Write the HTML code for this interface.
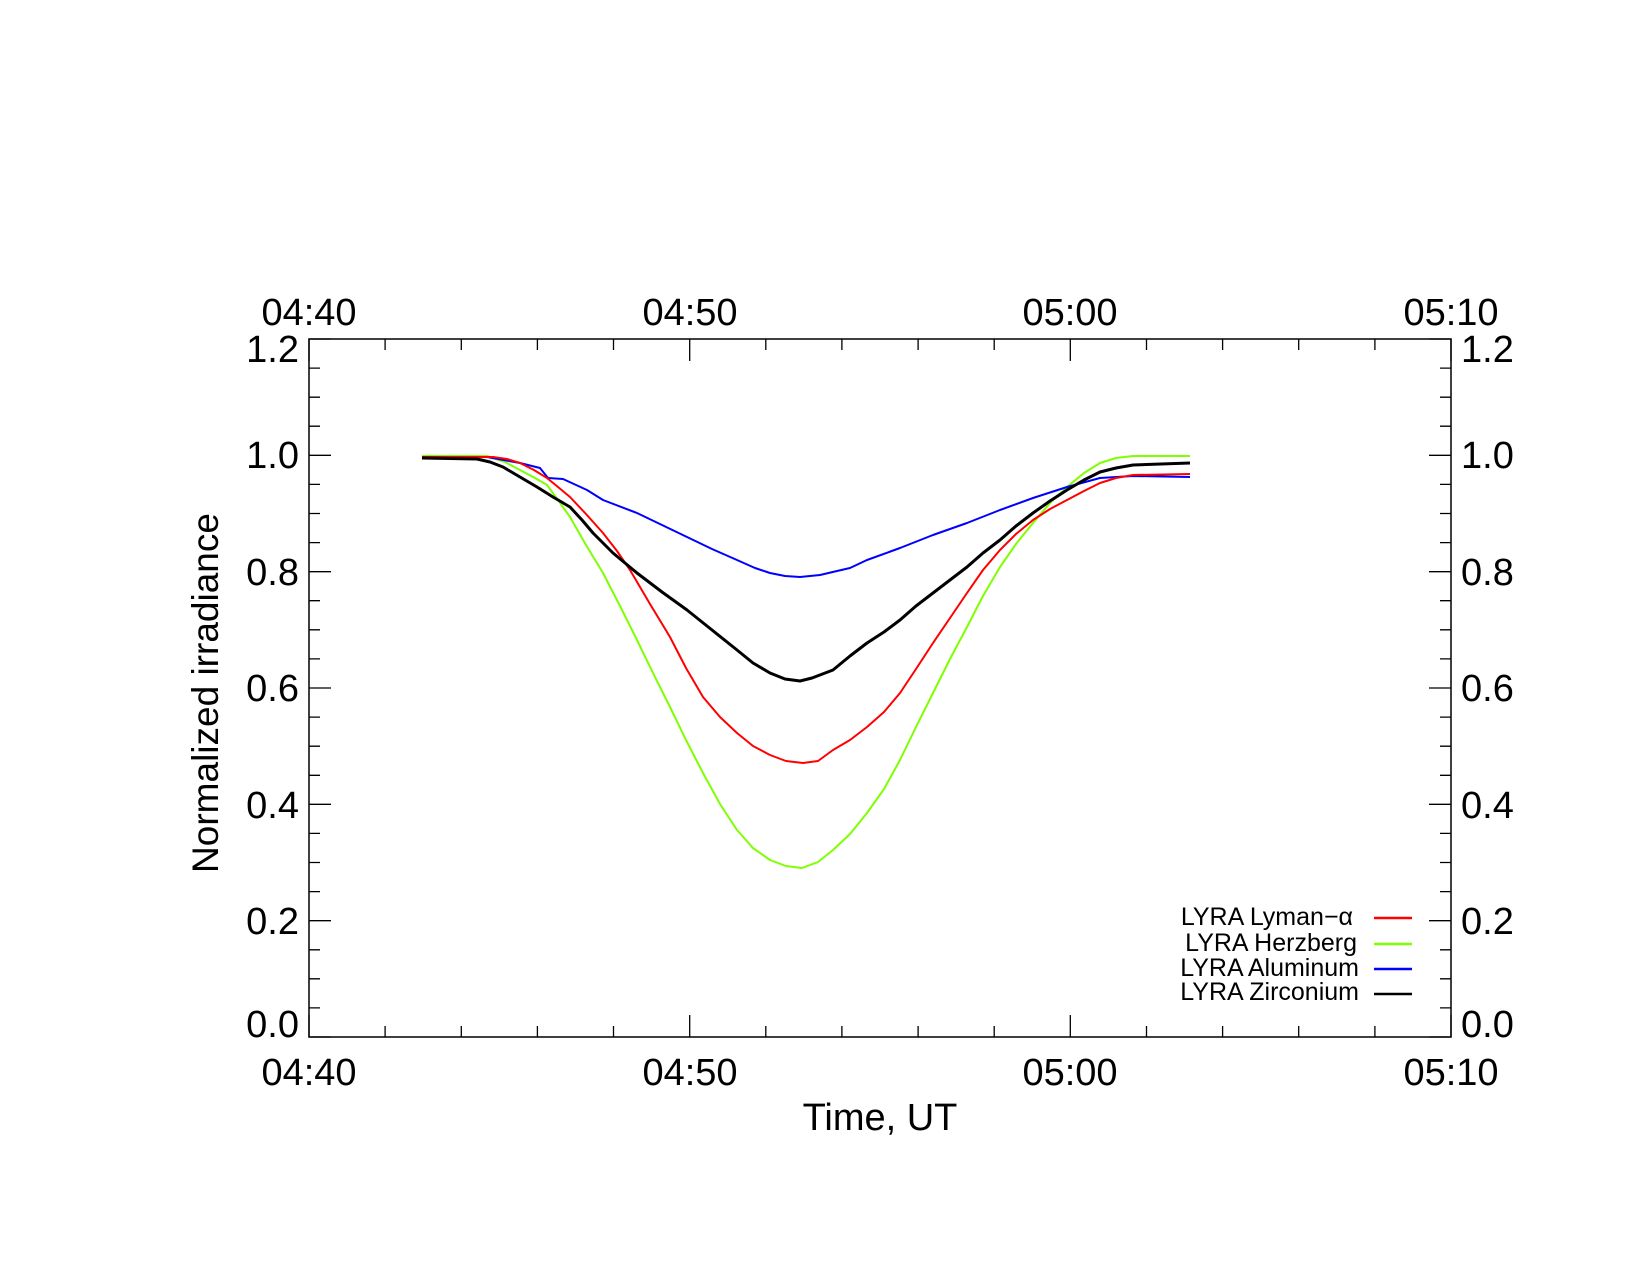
<!DOCTYPE html>
<html><head><meta charset="utf-8"><style>body{margin:0;background:#fff}svg{display:block}text{font-family:"Liberation Sans",sans-serif;fill:#000}</style></head><body>
<svg width="1650" height="1275" viewBox="0 0 1650 1275" xmlns="http://www.w3.org/2000/svg">
<rect width="1650" height="1275" fill="#fff"/>
<path stroke="#000" stroke-width="1.3" fill="none" d="
M309,1037v-22M385.1,1037v-11M461.3,1037v-11M537.4,1037v-11M613.5,1037v-11M689.7,1037v-22M765.8,1037v-11M841.9,1037v-11M918.1,1037v-11M994.2,1037v-11M1070.3,1037v-22M1146.5,1037v-11M1222.6,1037v-11M1298.7,1037v-11M1374.9,1037v-11M1451,1037v-22
M309,339v22M385.1,339v11M461.3,339v11M537.4,339v11M613.5,339v11M689.7,339v22M765.8,339v11M841.9,339v11M918.1,339v11M994.2,339v11M1070.3,339v22M1146.5,339v11M1222.6,339v11M1298.7,339v11M1374.9,339v11M1451,339v22
M309,1037h22M309,1007.9h11M309,978.8h11M309,949.8h11M309,920.7h22M309,891.6h11M309,862.5h11M309,833.4h11M309,804.3h22M309,775.3h11M309,746.2h11M309,717.1h11M309,688h22M309,658.9h11M309,629.8h11M309,600.7h11M309,571.7h22M309,542.6h11M309,513.5h11M309,484.4h11M309,455.3h22M309,426.2h11M309,397.2h11M309,368.1h11M309,339h22
M1451,1037h-22M1451,1007.9h-11M1451,978.8h-11M1451,949.8h-11M1451,920.7h-22M1451,891.6h-11M1451,862.5h-11M1451,833.4h-11M1451,804.3h-22M1451,775.3h-11M1451,746.2h-11M1451,717.1h-11M1451,688h-22M1451,658.9h-11M1451,629.8h-11M1451,600.7h-11M1451,571.7h-22M1451,542.6h-11M1451,513.5h-11M1451,484.4h-11M1451,455.3h-22M1451,426.2h-11M1451,397.2h-11M1451,368.1h-11M1451,339h-22"/>
<rect x="309" y="339" width="1142" height="698" fill="none" stroke="#000" stroke-width="1.5"/>
<g fill="none" stroke-width="2" stroke-linejoin="round">
<polyline stroke="#7fff00" points="422,456 487,456 505,462 520,470 535,478 547,485 558,500 570,517 586,545 603,573 620,606 637,640 653,673 670,707 686,740 703,773 720,804 737,830 753,848 770,860 786,866 802,868 818,862 833,850 850,834 867,813 884,789 900,760 916,727 933,693 950,659 967,627 983,596 1000,567 1016,544 1033,523 1050,503 1067,487 1084,473 1100,463 1116,458 1133,456 1190,456"/>
<polyline stroke="#0000ff" points="422,457 487,457 520,463 540,468 548,478 563,479 587,490 603,500 637,513 662,525 687,537 712,549 737,560 755,568 770,573 785,576 800,577 820,575 837,571 850,568 867,560 900,548 933,535 967,523 1000,510 1033,498 1067,487 1100,478 1133,476 1190,477"/>
<polyline stroke="#ff0000" points="422,457 493,457 507,459 520,463 534,470 547,478 558,487 570,497 586,514 603,533 617,551 630,570 650,604 670,637 686,668 703,697 720,717 737,733 753,746 770,755 786,761 803,763 818,761 833,750 850,740 867,727 884,712 900,693 916,669 933,643 950,618 967,593 983,570 1000,550 1016,534 1033,520 1050,509 1067,500 1084,491 1100,483 1116,478 1133,475 1190,474"/>
<polyline stroke="#000" stroke-width="3" points="422,458 477,459 490,462 503,467 520,477 537,487 553,497 570,507 582,520 593,533 603,543 613,553 625,563 637,573 662,592 687,610 712,630 737,650 753,663 770,673 785,679 800,681 812,678 833,670 850,656 867,643 884,632 900,620 916,606 933,593 950,580 967,567 983,553 1000,540 1016,526 1033,513 1050,501 1067,490 1084,480 1100,472 1116,468 1133,465 1190,463"/>
</g>
<g font-size="38" text-anchor="middle">
<text x="309" y="325">04:40</text><text x="690" y="325">04:50</text><text x="1070" y="325">05:00</text><text x="1451" y="325">05:10</text>
<text x="309" y="1085">04:40</text><text x="690" y="1085">04:50</text><text x="1070" y="1085">05:00</text><text x="1451" y="1085">05:10</text>
</g>
<g font-size="38" text-anchor="end">
<text x="299" y="1037">0.0</text><text x="299" y="934">0.2</text><text x="299" y="818">0.4</text><text x="299" y="701">0.6</text><text x="299" y="585">0.8</text><text x="299" y="468">1.0</text><text x="299" y="362">1.2</text>
</g>
<g font-size="38">
<text x="1461" y="1037">0.0</text><text x="1461" y="934">0.2</text><text x="1461" y="818">0.4</text><text x="1461" y="701">0.6</text><text x="1461" y="585">0.8</text><text x="1461" y="468">1.0</text><text x="1461" y="362">1.2</text>
</g>
<text x="880" y="1130" font-size="38" text-anchor="middle">Time, UT</text>
<text transform="translate(218,693) rotate(-90)" font-size="37" text-anchor="middle">Normalized irradiance</text>
<g font-size="25" text-anchor="end">
<text x="1353" y="925">LYRA Lyman−α</text><text x="1357" y="951">LYRA Herzberg</text><text x="1359" y="976">LYRA Aluminum</text><text x="1359" y="1000">LYRA Zirconium</text>
</g>
<g stroke-width="2.5">
<line x1="1374" y1="918" x2="1412" y2="918" stroke="#ff0000"/>
<line x1="1374" y1="944" x2="1412" y2="944" stroke="#7fff00"/>
<line x1="1374" y1="969" x2="1412" y2="969" stroke="#0000ff"/>
<line x1="1374" y1="994" x2="1412" y2="994" stroke="#000"/>
</g>
</svg>
</body></html>
